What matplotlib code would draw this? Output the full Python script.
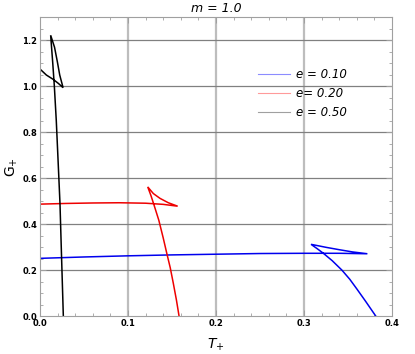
import matplotlib
matplotlib.use("Agg")
import matplotlib.pyplot as plt
from matplotlib.lines import Line2D
from matplotlib.ticker import MultipleLocator

# swallowtail curves G+ vs T+ (branch 1 -> cusp -> branch 2 -> cusp -> branch 3)
t_e010 = [0.0, 0.05, 0.10, 0.15, 0.20, 0.25, 0.30, 0.34, 0.372,
          0.355, 0.341, 0.325, 0.308,
          0.315, 0.322, 0.332, 0.343, 0.352, 0.360, 0.370, 0.3815]
g_e010 = [0.251, 0.257, 0.262, 0.266, 0.269, 0.272, 0.273, 0.273, 0.271,
          0.279, 0.288, 0.299, 0.312,
          0.293, 0.273, 0.241, 0.200, 0.160, 0.118, 0.064, 0.0]

t_e020 = [0.0, 0.03, 0.06, 0.09, 0.12, 0.14, 0.1564,
          0.1458, 0.1364, 0.1288, 0.1224,
          0.126, 0.129, 0.135, 0.140, 0.144, 0.148, 0.1515, 0.155, 0.158]
g_e020 = [0.487, 0.490, 0.492, 0.493, 0.491, 0.486, 0.478,
          0.493, 0.512, 0.533, 0.562,
          0.525, 0.490, 0.417, 0.340, 0.274, 0.210, 0.142, 0.070, 0.0]

t_e050 = [0.0, 0.0072, 0.015, 0.021, 0.0262,
          0.0224, 0.0197, 0.0165, 0.0121,
          0.0145, 0.0163, 0.0185, 0.0205, 0.0227, 0.0242, 0.0265]
g_e050 = [1.075, 1.049, 1.030, 1.012, 0.994,
          1.049, 1.107, 1.170, 1.222,
          1.100, 1.000, 0.850, 0.680, 0.490, 0.294, 0.0]

x_ticks = [0.0, 0.1, 0.2, 0.3, 0.4]
y_ticks = [0.0, 0.2, 0.4, 0.6, 0.8, 1.0, 1.2]

labels = ["e = 0.10", "e= 0.20", "e = 0.50"]
colors = ["#0000ee", "#ee0000", "#000000"]
legend_colors = ["#8c8cff", "#ff9a9a", "#a0a0a0"]

fig = plt.figure(figsize=(4.15, 3.54), dpi=100)
ax = fig.add_axes([0.0964, 0.1073, 0.8482, 0.8437])

for t, g, c in zip([t_e010, t_e020, t_e050], [g_e010, g_e020, g_e050], colors):
    ax.plot(t, g, color=c, lw=1.1, solid_joinstyle="miter")

ax.set_xticks(x_ticks)
ax.set_yticks(y_ticks)
ax.set_xticklabels([f"{v:.1f}" for v in x_ticks], fontweight="bold")
ax.set_yticklabels([f"{v:.1f}" for v in y_ticks], fontweight="bold")
ax.xaxis.set_minor_locator(MultipleLocator(0.02))
ax.yaxis.set_minor_locator(MultipleLocator(0.05))
ax.set_xlim(0, 0.4)
ax.set_ylim(0, 1.3)

# grid: light thick verticals, darker thin horizontals
for xv in x_ticks[1:-1]:
    ax.axvline(xv, color="#bdbdbd", lw=1.6, zorder=0)
for yv in y_ticks[1:]:
    ax.axhline(yv, color="#808080", lw=0.9, zorder=0)

for spine in ax.spines.values():
    spine.set_color("#a0a0a0")
    spine.set_linewidth(0.8)

ax.tick_params(which="both", direction="in", top=True, right=True,
               color="#a0a0a0", labelsize=6, pad=2)
ax.tick_params(which="major", length=4, width=0.7)
ax.tick_params(which="minor", length=2.5, width=0.6)

ax.set_xlabel(r"$\mathit{T}_{+}$", fontsize=10, labelpad=6)
ax.set_ylabel(r"$\mathrm{G}_{+}$", fontsize=10)
ax.yaxis.set_label_coords(-0.058, 0.5)
ax.set_title("m = 1.0", fontsize=9, style="italic", pad=4)

handles = [Line2D([0], [0], color=c, lw=0.8) for c in legend_colors]
ax.legend(handles, labels, loc="upper left", bbox_to_anchor=(0.59, 0.865),
          frameon=False, handlelength=2.7, handletextpad=0.5,
          labelspacing=0.5, prop={"style": "italic", "size": 8.5})

fig.savefig("out.png", dpi=100, facecolor="white")
